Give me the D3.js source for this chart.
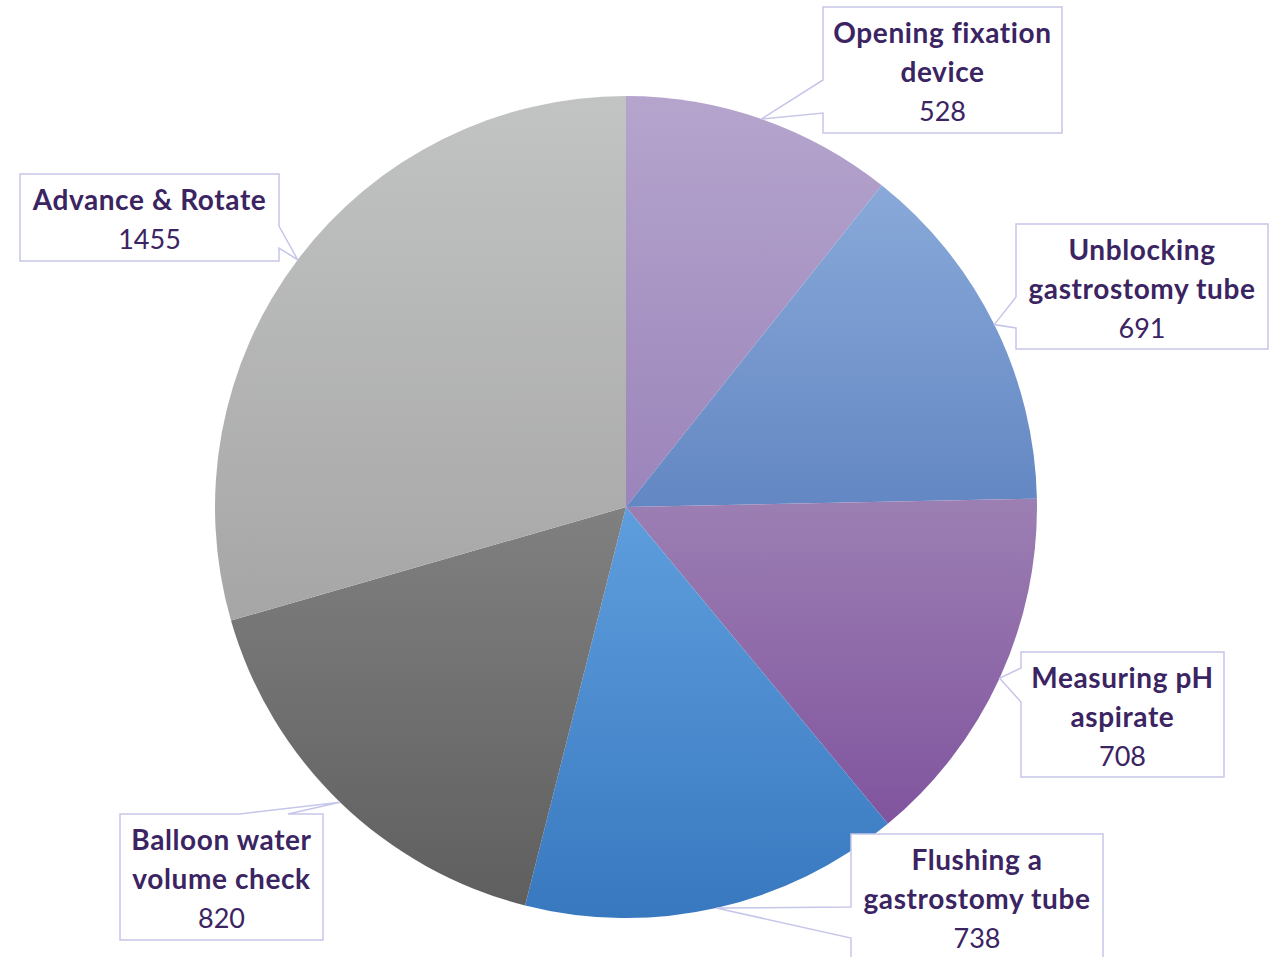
<!DOCTYPE html>
<html>
<head>
<meta charset="utf-8">
<script src="https://cdn.jsdelivr.net/npm/d3@7"></script>
<style>
  body { margin: 0; background: #fff; }
  svg { display: block; }
  .lbl { font-family: Lato, "Open Sans", sans-serif; fill: #3b2462; }
  .lbl .name { font-weight: bold; letter-spacing: 0.6px; }
</style>
</head>
<body>
<svg width="1273" height="957"></svg>
<script>
// data, clockwise from 12 o'clock
const categories = ["Opening fixation\ndevice", "Unblocking\ngastrostomy tube", "Measuring pH\naspirate",
  "Flushing a\ngastrostomy tube", "Balloon water\nvolume check", "Advance & Rotate"]
const values = [528, 691, 708, 738, 820, 1455]

// slice colours (top / bottom of gradient)
const topColors = ["#b5a5cd", "#89a9d9", "#9c7fb3", "#5f9edd", "#808080", "#c2c4c3"]
const bottomColors = ["#9b84ba", "#6387c3", "#80549e", "#3878bf", "#5f5f5f", "#a5a6a5"]

// callout boxes: left, top, width, height, side of wedge, wedge base offsets along that side
const boxes = [
  {x: 823, y: 7, w: 239, h: 126, side: "left", b: [73, 106]},
  {x: 1016, y: 224, w: 252, h: 125, side: "left", b: [73, 104]},
  {x: 1021, y: 652, w: 203, h: 125, side: "left", b: [16, 50]},
  {x: 851, y: 834, w: 252, h: 126, side: "left", b: [73, 104]},
  {x: 120, y: 814, w: 203, h: 126, side: "top", b: [120, 168]},
  {x: 20, y: 174, w: 259, h: 87, side: "right", b: [52, 74]}
]

const svg = d3.select("svg")
const cx = 626, cy = 507, radius = 411

const pie = d3.pie().sort(null).value(d => d)
const arcs = pie(values)

const arc = d3.arc().innerRadius(0).outerRadius(radius)
const tipArc = d3.arc().innerRadius(radius).outerRadius(radius)

//gradients
const defs = svg.append("defs")
arcs.forEach((d, i) => {
  const g = defs.append("linearGradient")
    .attr("id", "grad" + i)
    .attr("x1", 0).attr("y1", 0).attr("x2", 0).attr("y2", 1)
  g.append("stop").attr("offset", "0%").attr("stop-color", topColors[i])
  g.append("stop").attr("offset", "100%").attr("stop-color", bottomColors[i])
})

const pieG = svg.append("g")
  .attr("transform", `translate(${cx},${cy})`)

pieG.selectAll("path.slice")
  .data(arcs)
  .enter()
  .append("path")
  .attr("class", "slice")
  .attr("d", arc)
  .attr("fill", (d, i) => `url(#grad${i})`)

//callouts
function calloutPath(bx, tip) {
  const x0 = bx.x, y0 = bx.y, x1 = bx.x + bx.w, y1 = bx.y + bx.h
  const [tx, ty] = tip
  const [a, b] = bx.b
  if (bx.side == "left") {
    return `M${x0},${y0}H${x1}V${y1}H${x0}V${y0 + b}L${tx},${ty}L${x0},${y0 + a}Z`
  } else if (bx.side == "right") {
    return `M${x0},${y0}H${x1}V${y0 + a}L${tx},${ty}L${x1},${y0 + b}V${y1}H${x0}Z`
  } else {
    return `M${x0},${y0}H${x0 + a}L${tx},${ty}L${x0 + b},${y0}H${x1}V${y1}H${x0}Z`
  }
}

const labels = svg.selectAll("g.lbl")
  .data(arcs)
  .enter()
  .append("g")
  .attr("class", "lbl")

labels.append("path")
  .attr("d", (d, i) => {
    const c = tipArc.centroid(d)
    return calloutPath(boxes[i], [cx + c[0], cy + c[1]])
  })
  .attr("fill", "#fff")
  .attr("stroke", "#c6c6ea")
  .attr("stroke-width", 1.5)

labels.each(function (d, i) {
  const g = d3.select(this)
  const bx = boxes[i]
  const lines = categories[i].split("\n")
  const midX = bx.x + bx.w / 2
  lines.forEach((t, j) => {
    g.append("text")
      .attr("class", "name")
      .attr("x", midX)
      .attr("y", bx.y + 26 + j * 39 + 10)
      .attr("text-anchor", "middle")
      .style("font-size", "28px")
      .text(t)
  })
  g.append("text")
    .attr("x", midX)
    .attr("y", bx.y + 26 + lines.length * 39 + 10)
    .attr("text-anchor", "middle")
    .style("font-size", "27px")
    .text(d.data)
})
</script>
</body>
</html>
